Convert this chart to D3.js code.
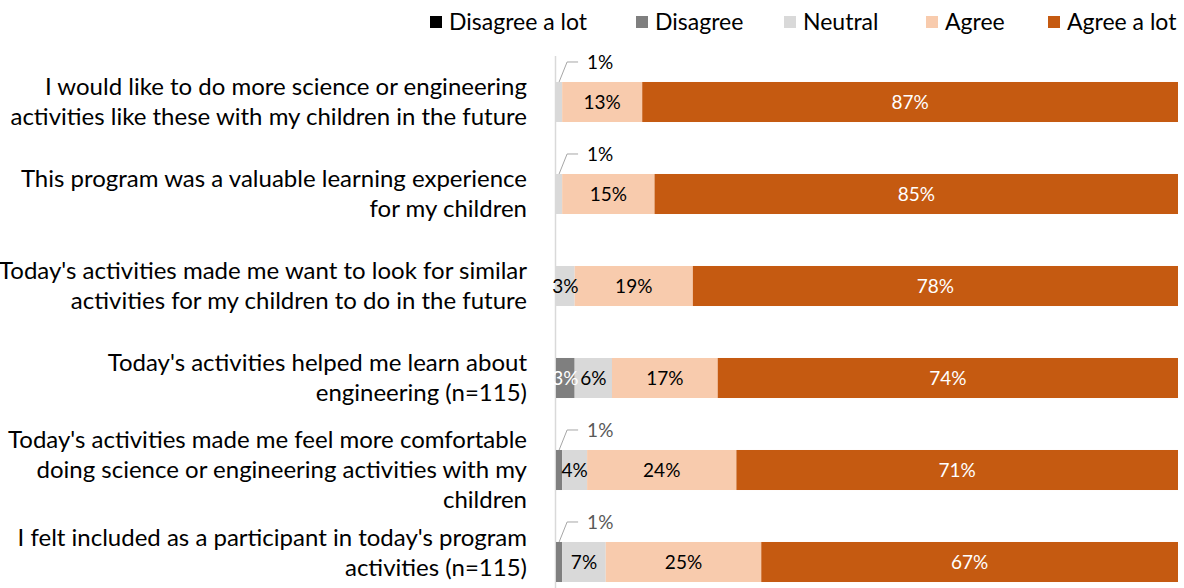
<!DOCTYPE html>
<html lang="en">
<head>
<meta charset="utf-8">
<title>Program survey</title>
<script src="https://d3js.org/d3.v7.min.js"></script>
<style>
  body { margin: 0; background: #fff; }
  svg text { font-family: Lato, "Noto Sans", sans-serif; }
</style>
</head>
<body>
<script>
// category labels, already wrapped the way the original shows them
var categories = [
  ["I would like to do more science or engineering", "activities like these with my children in the future"],
  ["This program was a valuable learning experience", "for my children"],
  ["Today's activities made me want to look for similar", "activities for my children to do in the future"],
  ["Today's activities helped me learn about", "engineering (n=115)"],
  ["Today's activities made me feel more comfortable", "doing science or engineering activities with my", "children"],
  ["I felt included as a participant in today's program", "activities (n=115)"]
];

var seriesNames = ["Disagree a lot", "Disagree", "Neutral", "Agree", "Agree a lot"];
var disagreeLot = [0, 0, 0, 0, 0, 0];
var disagree    = [0, 0, 0, 3, 1, 1];
var neutral     = [1, 1, 3, 6, 4, 7];
var agree       = [13, 15, 19, 17, 24, 25];
var agreeLot    = [87, 85, 78, 74, 71, 67];

var colors = ["#000000", "#7f7f7f", "#d9d9d9", "#f8cbad", "#c55a11"];
var labelColors = ["#ffffff", "#ffffff", "#000000", "#000000", "#ffffff"];

var W = 1184, H = 588;
var svg = d3.select("body").append("svg").attr("width", W).attr("height", H);

// table for d3.stack
var rows = categories.map(function(c, i) {
  return {i: i, "Disagree a lot": disagreeLot[i], "Disagree": disagree[i],
          "Neutral": neutral[i], "Agree": agree[i], "Agree a lot": agreeLot[i]};
});

// 100% stacked: each row is scaled to its own total
var stacked = d3.stack().keys(seriesNames).offset(d3.stackOffsetExpand)(rows);

var x = d3.scaleLinear().domain([0, 1]).range([556, 1178]);
var y = d3.scaleBand().domain(d3.range(categories.length)).range([56, 608])
  .paddingInner(0.565).paddingOuter(0.2825);

// vertical axis line
svg.append("line").attr("x1", 555.5).attr("x2", 555.5).attr("y1", 56).attr("y2", H)
  .attr("stroke", "#d9d9d9").attr("stroke-width", 1.5);

var groups = svg.selectAll("g.series").data(stacked).enter().append("g")
  .attr("class", "series")
  .attr("fill", function(d, i) { return colors[i]; });

groups.selectAll("rect").data(function(d) { return d; }).enter().append("rect")
  .attr("x", function(d) { return x(d[0]); })
  .attr("y", function(d) { return y(d.data.i); })
  .attr("width", function(d) { return x(d[1]) - x(d[0]); })
  .attr("height", y.bandwidth());

// data labels
stacked.forEach(function(s, si) {
  s.forEach(function(d) {
    var v = d.data[s.key];
    if (v <= 0) return;
    var cx = (x(d[0]) + x(d[1])) / 2;
    var top = y(d.data.i);
    if (v <= 1) {
      // small slice: callout with a leader line above the bar
      svg.append("polyline")
        .attr("points", [[cx, top], [cx + 8, top - 20], [cx + 19, top - 20]].join(" "))
        .attr("fill", "none").attr("stroke", "#a6a6a6").attr("stroke-width", 1);
      svg.append("text").attr("x", cx + 28).attr("y", top - 20).attr("dy", "0.35em")
        .attr("font-size", 19)
        .attr("fill", si == 1 ? "#595959" : "#000000")
        .text(v + "%");
    } else {
      svg.append("text").attr("x", cx).attr("y", top + y.bandwidth() / 2).attr("dy", "0.35em")
        .attr("text-anchor", "middle").attr("font-size", 19)
        .attr("fill", labelColors[si]).text(v + "%");
    }
  });
});

// category labels
var lineH = 30;
categories.forEach(function(lines, i) {
  var cy = y(i) + y.bandwidth() / 2;
  var y0 = cy - (lines.length - 1) * lineH / 2;
  var bottom = y0 + (lines.length - 1) * lineH + 12;
  if (bottom > H - 8) y0 -= bottom - (H - 8);
  var t = svg.append("text").attr("text-anchor", "end").attr("font-size", 24).attr("fill", "#000");
  lines.forEach(function(l, k) {
    t.append("tspan").attr("x", 527).attr("y", y0 + k * lineH).attr("dy", "0.35em").text(l);
  });
});

// legend
var legendX = [430, 636, 784, 926, 1048];
seriesNames.forEach(function(n, i) {
  svg.append("rect").attr("x", legendX[i]).attr("y", 16).attr("width", 12).attr("height", 12)
    .attr("fill", colors[i]);
  svg.append("text").attr("x", legendX[i] + 19).attr("y", 22).attr("dy", "0.35em")
    .attr("font-size", 23).attr("fill", "#000").text(n);
});
</script>
</body>
</html>
